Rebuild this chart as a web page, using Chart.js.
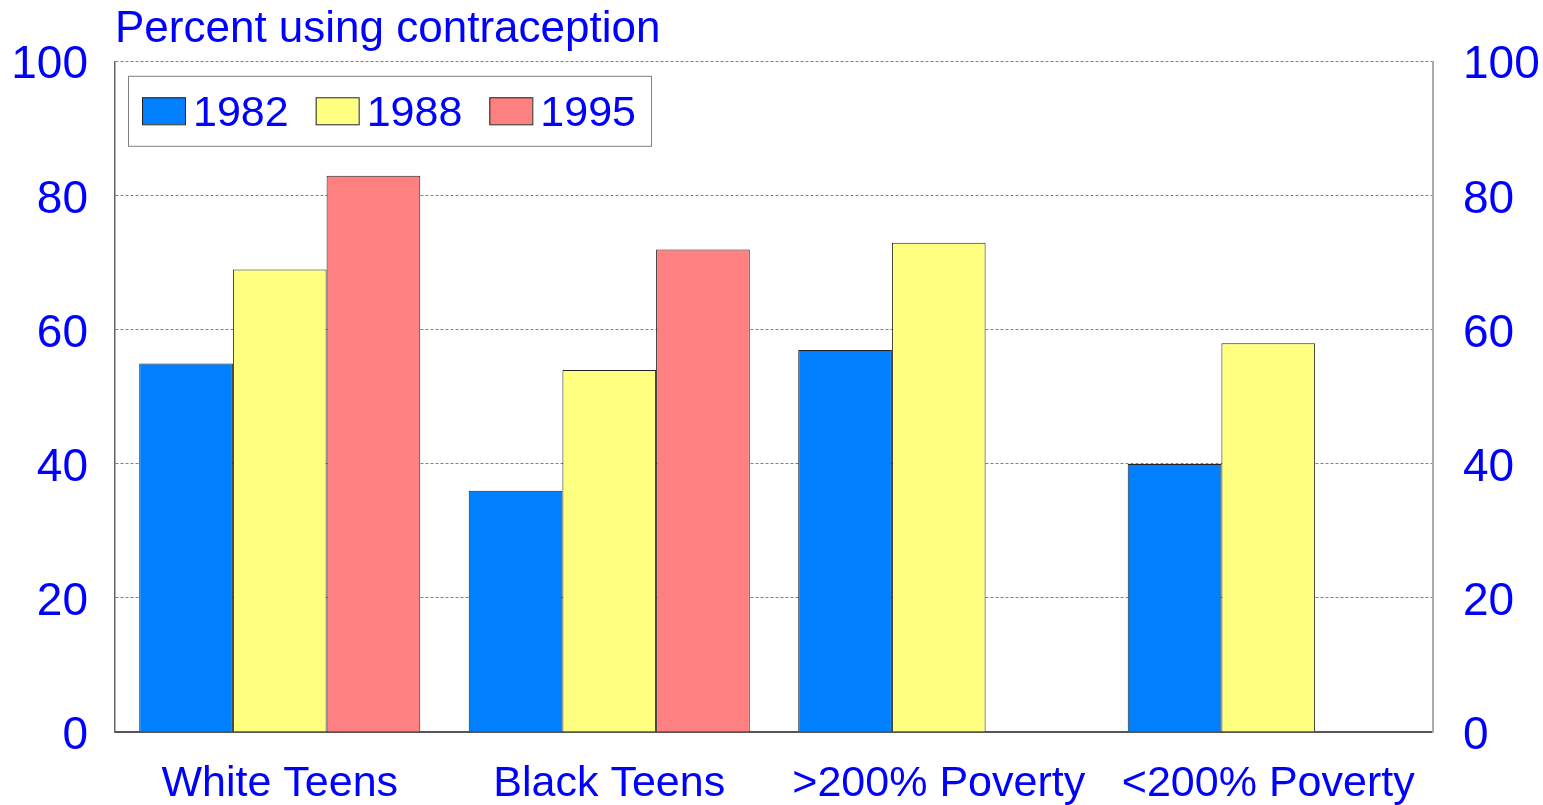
<!DOCTYPE html>
<html>
<head>
<meta charset="utf-8">
<title>Percent using contraception</title>
<script src="https://cdn.jsdelivr.net/npm/chart.js@4/dist/chart.umd.min.js"></script>
<style>
  html, body { margin: 0; padding: 0; background: #fff; }
  canvas { display: block; }
</style>
</head>
<body>
<canvas id="contra-chart" width="1543" height="805"></canvas>
<script>
// values
const categories = ["White Teens", "Black Teens", ">200% Poverty", "<200% Poverty"];
const years      = ["1982", "1988", "1995"];
const use1982    = [55, 36, 57, 40];
const use1988    = [69, 54, 73, 58];
const use1995    = [83, 72, null, null];
const yTicks     = [0, 20, 40, 60, 80, 100];

const BLUE_TEXT = "#0000ff";
const FONT = "'Liberation Sans', Arial, Helvetica, sans-serif";

// legend drawn inside the plot, boxed, one row
const boxLegend = {
    id: "boxLegend",
    afterDraw(chart) {
        const ctx = chart.ctx;
        const area = chart.chartArea;
        const sw = 43, sh = 27, gap = 8, itemGap = 27, padL = 14, padR = 15, boxH = 70;
        ctx.save();
        ctx.font = "43px " + FONT;
        const items = chart.data.datasets.map(ds => ({
            label: ds.label,
            fill: ds.backgroundColor,
            w: ctx.measureText(ds.label).width,
        }));
        let total = padL + padR;
        items.forEach((it, i) => { total += sw + gap + it.w + (i ? itemGap : 0); });
        const left = area.left + 13, top = area.top + 14;

        ctx.fillStyle = "#fff";
        ctx.fillRect(left, top, total, boxH);
        ctx.strokeStyle = "#808080";
        ctx.lineWidth = 1;
        ctx.strokeRect(left + 0.5, top + 0.5, total, boxH);

        let x = left + padL;
        const cy = top + boxH / 2;
        items.forEach(it => {
            ctx.fillStyle = it.fill;
            ctx.fillRect(x, cy - sh / 2, sw, sh);
            ctx.strokeStyle = "#222";
            ctx.strokeRect(x + 0.5, cy - sh / 2 + 0.5, sw, sh);
            ctx.fillStyle = BLUE_TEXT;
            ctx.textAlign = "left";
            ctx.textBaseline = "middle";
            ctx.fillText(it.label, x + sw + gap, cy + 3);
            x += sw + gap + it.w + itemGap;
        });
        ctx.restore();
    },
};

function initChart() {
    const canvas = document.getElementById("contra-chart");

    new Chart(canvas, {
        type: "bar",
        data: {
            labels: categories,
            datasets: [
                { label: years[0], data: use1982, backgroundColor: "#0080ff" },
                { label: years[1], data: use1988, backgroundColor: "#ffff80" },
                { label: years[2], data: use1995, backgroundColor: "#ff8080" },
            ].map(ds => Object.assign(ds, {
                borderColor: "#222",
                borderWidth: 1,
                categoryPercentage: 0.853,
                barPercentage: 1.0,
            })),
        },
        options: {
            responsive: false,
            animation: false,
            layout: { padding: 0 },
            plugins: {
                legend: { display: false },
                tooltip: { enabled: false },
                title: {
                    display: true,
                    text: "Percent using contraception",
                    align: "start",
                    fullSize: false,
                    color: BLUE_TEXT,
                    font: { family: FONT, size: 44, weight: "normal" },
                    padding: { top: 3, bottom: 6 },
                },
            },
            scales: {
                x: {
                    grid: { display: false, drawTicks: false },
                    border: { display: true, color: "#555", width: 2 },
                    ticks: {
                        color: BLUE_TEXT,
                        padding: 26,
                        maxRotation: 0,
                        autoSkip: false,
                        font: { family: FONT, size: 43 },
                    },
                    afterFit: s => { s.height = 73; },
                },
                y: {
                    position: "left",
                    min: 0,
                    max: 100,
                    afterBuildTicks: s => { s.ticks = yTicks.map(v => ({ value: v })); },
                    grid: { color: "#808080", lineWidth: 1, drawTicks: false },
                    border: { display: true, color: "#666", width: 1.5, dash: [3, 2] },
                    ticks: {
                        color: BLUE_TEXT,
                        padding: 27,
                        labelOffset: 4,
                        font: { family: FONT, size: 46 },
                    },
                    afterFit: s => { s.width = 115; },
                },
                y2: {
                    position: "right",
                    min: 0,
                    max: 100,
                    afterBuildTicks: s => { s.ticks = yTicks.map(v => ({ value: v })); },
                    grid: { display: false, drawTicks: false },
                    border: { display: true, color: "#aaa", width: 2 },
                    ticks: {
                        color: BLUE_TEXT,
                        padding: 30,
                        labelOffset: 4,
                        font: { family: FONT, size: 46 },
                    },
                    afterFit: s => { s.width = 110; },
                },
            },
        },
        plugins: [boxLegend],
    });
}

initChart();
</script>
</body>
</html>
